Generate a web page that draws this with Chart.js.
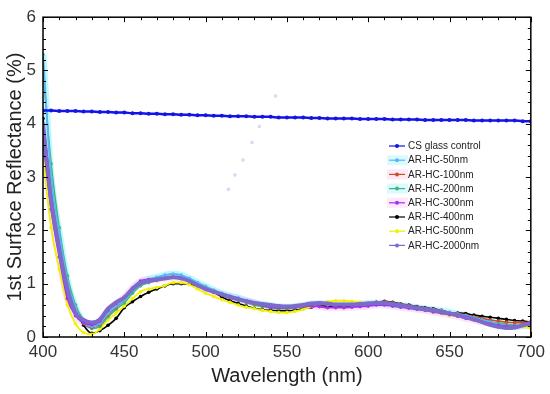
<!DOCTYPE html>
<html><head><meta charset="utf-8">
<script src="https://cdn.jsdelivr.net/npm/chart.js@4.4.0/dist/chart.umd.min.js"></script>
<style>html,body{margin:0;padding:0;background:#fff}</style>
</head><body>
<canvas id="c" width="550" height="394"></canvas>
<script>
// ---- data ----
const wavelengths = [400,405,410,415,420,425,430,435,440,445,
  450,455,460,465,470,475,480,485,490,495,
  500,505,510,515,520,525,530,535,540,545,
  550,555,560,565,570,575,580,585,590,595,
  600,605,610,615,620,625,630,635,640,645,
  650,655,660,665,670,675,680,685,690,695,700];

const csGlass = [4.25,4.25,4.24,4.24,4.24,4.23,4.23,4.22,4.22,4.21,
  4.21,4.20,4.20,4.19,4.19,4.18,4.18,4.17,4.17,4.16,
  4.16,4.15,4.15,4.14,4.14,4.14,4.13,4.13,4.13,4.12,
  4.12,4.12,4.12,4.11,4.11,4.10,4.10,4.10,4.10,4.09,
  4.09,4.09,4.09,4.08,4.08,4.08,4.08,4.07,4.07,4.07,
  4.07,4.07,4.07,4.06,4.06,4.06,4.06,4.06,4.06,4.05,4.05];

const hc50 = [5.3,3.0,1.95,1.05,0.55,0.28,0.2,0.26,0.44,0.58,
  0.7,0.88,1.02,1.08,1.12,1.16,1.18,1.16,1.1,1.02,
  0.95,0.88,0.82,0.77,0.73,0.68,0.64,0.61,0.59,0.57,
  0.56,0.57,0.59,0.62,0.63,0.62,0.61,0.61,0.61,0.62,
  0.63,0.64,0.63,0.61,0.59,0.57,0.55,0.53,0.51,0.49,
  0.46,0.43,0.4,0.36,0.32,0.28,0.24,0.21,0.2,0.21,0.24];

const hc100 = [3.95,2.8,1.8,0.95,0.48,0.25,0.18,0.24,0.42,0.56,
  0.7,0.9,1.04,1.07,1.08,1.1,1.12,1.1,1.06,0.98,
  0.9,0.84,0.79,0.74,0.7,0.66,0.62,0.59,0.57,0.55,
  0.55,0.56,0.58,0.6,0.61,0.6,0.59,0.59,0.6,0.61,
  0.63,0.65,0.66,0.64,0.61,0.59,0.56,0.54,0.52,0.49,
  0.46,0.44,0.41,0.38,0.35,0.32,0.3,0.28,0.27,0.27,0.28];

const hc200 = [5.0,3.25,2.05,1.15,0.6,0.32,0.16,0.2,0.38,0.52,
  0.64,0.82,0.96,1.02,1.06,1.1,1.12,1.12,1.08,1.0,
  0.92,0.86,0.8,0.74,0.69,0.65,0.6,0.57,0.55,0.53,
  0.53,0.55,0.57,0.6,0.62,0.62,0.61,0.61,0.61,0.62,
  0.63,0.64,0.64,0.62,0.6,0.57,0.55,0.52,0.5,0.47,
  0.44,0.42,0.38,0.35,0.31,0.28,0.26,0.24,0.22,0.22,0.24];

const hc300 = [3.7,2.4,1.5,0.72,0.4,0.27,0.23,0.3,0.5,0.63,
  0.75,0.92,1.05,1.08,1.08,1.1,1.12,1.1,1.05,0.97,
  0.9,0.84,0.8,0.76,0.72,0.68,0.64,0.6,0.56,0.55,
  0.55,0.56,0.58,0.58,0.57,0.55,0.55,0.55,0.56,0.57,
  0.58,0.6,0.6,0.58,0.56,0.54,0.52,0.5,0.47,0.45,
  0.42,0.39,0.35,0.32,0.28,0.25,0.22,0.2,0.2,0.23,0.27];

const hc400 = [4.1,2.75,1.9,1.0,0.55,0.22,0.07,0.12,0.22,0.35,
  0.55,0.66,0.76,0.84,0.9,0.96,1.0,1.0,0.99,0.96,
  0.92,0.84,0.75,0.68,0.63,0.58,0.54,0.51,0.5,0.49,
  0.49,0.5,0.53,0.56,0.59,0.58,0.57,0.57,0.58,0.6,
  0.62,0.65,0.67,0.65,0.62,0.6,0.57,0.55,0.53,0.5,
  0.46,0.45,0.44,0.41,0.39,0.37,0.35,0.33,0.31,0.3,0.28];

const hc500 = [3.4,2.05,1.27,0.6,0.25,0.08,0.05,0.15,0.32,0.45,
  0.58,0.72,0.85,0.9,0.93,0.97,1.02,1.02,0.98,0.9,
  0.82,0.76,0.7,0.65,0.6,0.56,0.53,0.5,0.48,0.46,
  0.46,0.48,0.52,0.57,0.62,0.66,0.68,0.68,0.67,0.65,
  0.64,0.63,0.62,0.6,0.58,0.55,0.53,0.5,0.47,0.44,
  0.41,0.39,0.36,0.33,0.3,0.28,0.26,0.24,0.22,0.19,0.16];

const hc2000 = [4.0,2.55,1.65,0.9,0.45,0.32,0.27,0.33,0.53,0.65,
  0.74,0.9,1.01,1.05,1.08,1.1,1.12,1.1,1.05,0.97,
  0.9,0.85,0.8,0.75,0.71,0.67,0.64,0.62,0.6,0.58,
  0.57,0.58,0.6,0.63,0.64,0.63,0.61,0.61,0.61,0.62,
  0.63,0.64,0.64,0.62,0.59,0.57,0.55,0.52,0.5,0.47,
  0.44,0.41,0.37,0.33,0.28,0.23,0.19,0.17,0.18,0.22,0.26];

// stray measurement points visible in the picture
const strayWavelengths = [514,518,523,528.5,533,543];
const strayValues = [2.77,3.04,3.32,3.65,3.95,4.52];

const seriesLabels = ['CS glass control','AR-HC-50nm','AR-HC-100nm','AR-HC-200nm',
  'AR-HC-300nm','AR-HC-400nm','AR-HC-500nm','AR-HC-2000nm'];

// ---- build chart ----
const FONT = "'Liberation Sans', Arial, Helvetica, sans-serif";
const pts = (xs, ys) => xs.map((x, i) => ({x, y: ys[i]}));

const styles = [
  {color:'#1414e6', width:2.5, r:2.0, order:1},
  {color:'#5cb6f2', width:2, r:1.8, order:5, band:'rgba(120,235,252,0.45)', legendBg:'rgba(150,240,255,0.35)'},
  {color:'#c4502c', width:1.6, r:1.8, order:6, legendBg:'rgba(255,190,230,0.35)'},
  {color:'#3cb878', width:1.6, r:1.8, order:7, legendBg:'rgba(150,240,255,0.35)'},
  {color:'#a032f2', width:1.8, r:1.8, order:4, band:'rgba(255,160,240,0.30)', legendBg:'rgba(255,190,240,0.35)'},
  {color:'#000000', width:1.6, r:1.8, order:9},
  {color:'#f2f200', width:1.8, r:1.8, order:8},
  {color:'#7d6acb', width:4, r:1.6, order:3}
];
const seriesValues = [csGlass, hc50, hc100, hc200, hc300, hc400, hc500, hc2000];

const datasets = [];
seriesValues.forEach((vals, i) => {
  const s = styles[i];
  datasets.push({
    label: seriesLabels[i], data: pts(wavelengths, vals),
    borderColor: s.color, backgroundColor: s.color, borderWidth: s.width,
    pointRadius: s.r, pointBorderWidth: 0, pointBackgroundColor: s.color,
    cubicInterpolationMode: 'monotone', fill: false, order: s.order
  });
  if (s.band) {
    datasets.push({
      label: '_band' + i, data: pts(wavelengths, vals),
      borderColor: s.band, borderWidth: 7, pointRadius: 0,
      cubicInterpolationMode: 'monotone', fill: false, order: 20
    });
  }
});
datasets.push({
  label: '_stray', data: pts(strayWavelengths, strayValues), showLine: false,
  pointRadius: 1.5, pointBackgroundColor: 'rgba(150,240,250,0.8)',
  pointBorderColor: 'rgba(255,190,240,0.6)', pointBorderWidth: 1, order: 2
});

const frameTicks = {
  id: 'frameTicks',
  afterDraw(chart) {
    const {ctx, chartArea: a, scales: {x, y}} = chart;
    ctx.save();
    ctx.strokeStyle = '#000';
    ctx.lineWidth = 1;
    ctx.beginPath();
    for (let v = 400; v <= 700; v += 10) {
      const px = Math.round(x.getPixelForValue(v)) + 0.5;
      const len = (v % 50 === 0) ? 5 : 3;
      ctx.moveTo(px, a.bottom); ctx.lineTo(px, a.bottom - len);
      ctx.moveTo(px, a.top); ctx.lineTo(px, a.top + len);
    }
    for (let k = 0; k <= 30; k++) {
      const v = k * 0.2;
      const py = Math.round(y.getPixelForValue(v)) + 0.5;
      const len = (k % 5 === 0) ? 5 : 3;
      ctx.moveTo(a.left, py); ctx.lineTo(a.left + len, py);
      ctx.moveTo(a.right, py); ctx.lineTo(a.right - len, py);
    }
    ctx.stroke();
    ctx.lineWidth = 1.5;
    ctx.strokeRect(a.left, a.top, a.right - a.left, a.bottom - a.top);
    ctx.restore();
  }
};

const insideLegend = {
  id: 'insideLegend',
  afterDraw(chart) {
    const ctx = chart.ctx;
    const x0 = 389, x1 = 405, tx = 408, y0 = 146, dy = 14.2;
    ctx.save();
    ctx.font = '10px ' + FONT;
    ctx.textBaseline = 'middle';
    ctx.textAlign = 'left';
    seriesLabels.forEach((lab, i) => {
      const s = styles[i];
      const yy = y0 + i * dy;
      if (s.legendBg) { ctx.fillStyle = s.legendBg; ctx.fillRect(x0 - 2, yy - 5, 21, 10); }
      ctx.strokeStyle = s.color; ctx.lineWidth = 1.2;
      ctx.beginPath(); ctx.moveTo(x0, yy); ctx.lineTo(x1, yy); ctx.stroke();
      ctx.fillStyle = s.color;
      ctx.beginPath(); ctx.arc((x0 + x1) / 2, yy, 2, 0, Math.PI * 2); ctx.fill();
      ctx.fillStyle = '#222';
      ctx.fillText(lab, tx, yy + 0.5);
    });
    ctx.restore();
  }
};

new Chart(document.getElementById('c'), {
  type: 'line',
  data: {datasets},
  options: {
    responsive: false, animation: false, devicePixelRatio: 1,
    layout: {padding: {top: 12, right: 19, left: 0, bottom: 0}},
    plugins: {legend: {display: false}, tooltip: {enabled: false}},
    scales: {
      x: {
        type: 'linear', min: 400, max: 700,
        ticks: {stepSize: 50, color: '#333', padding: 5, maxRotation: 0, autoSkip: false,
          font: {family: FONT, size: 17}},
        grid: {display: false, drawTicks: false}, border: {display: false},
        title: {display: true, text: 'Wavelength (nm)', color: '#222',
          font: {family: FONT, size: 20}, padding: {top: 0, bottom: 6}},
        afterFit(s) { s.height = 57; }
      },
      y: {
        min: 0, max: 6,
        ticks: {stepSize: 1, color: '#333', padding: 7, font: {family: FONT, size: 17}},
        grid: {display: false, drawTicks: false}, border: {display: false},
        title: {display: true, text: '1st Surface Reflectance (%)', color: '#222',
          font: {family: FONT, size: 20}, padding: {top: 3, bottom: 0}},
        afterFit(s) { s.width = 43; }
      }
    }
  },
  plugins: [frameTicks, insideLegend]
});
</script>
</body></html>
